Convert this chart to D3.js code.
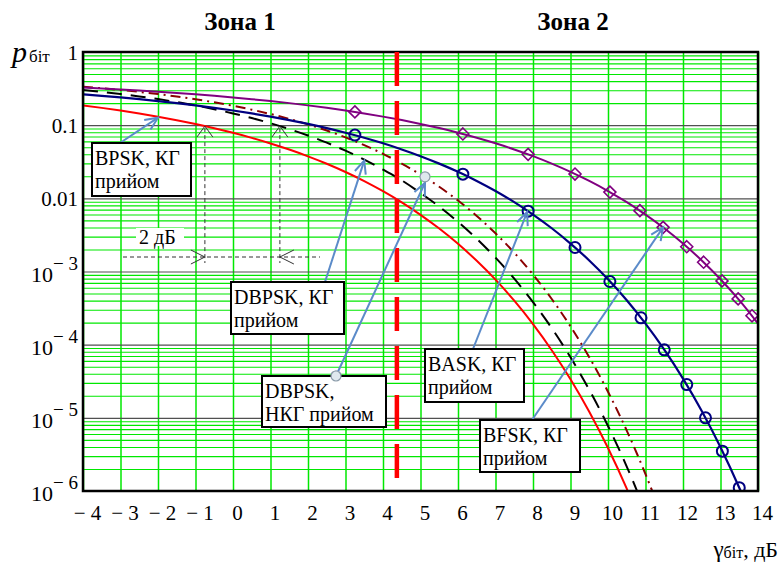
<!DOCTYPE html>
<html><head><meta charset="utf-8">
<script src="https://cdn.jsdelivr.net/npm/d3@7"></script>
<style>body{margin:0;background:#fff}svg{display:block}</style>
</head><body><svg id="c" width="782" height="568"></svg>
<script>
// ---------- DATA ----------
const snrDb = [-4,-3.5,-3,-2.5,-2,-1.5,-1,-0.5,0,0.5,1,1.5,2,2.5,3,3.5,4,4.5,5,5.5,6,6.5,7,7.5,8,8.5,9,9.5,10,10.5,11,11.5,12,12.5,13,13.5,14];
const bpskCoh = [0.1861,0.1723,0.1584,0.1445,0.1306,0.1170,0.1038,0.0909,0.0786,0.0671,0.0563,0.0464,0.0375,0.0297,0.0229,0.0172,0.0125,0.0088,0.00595,0.00386,0.00239,0.0014,7.73e-4,3.99e-4,1.91e-4,8.4e-5,3.36e-5,1.21e-5,3.87e-6,1.08e-6,2.6e-7,null,null,null,null,null,null];
const dbpskCoh = [0.3029,0.2852,0.2666,0.2472,0.2271,0.2066,0.1861,0.1653,0.1448,0.1252,0.1063,0.0885,0.0722,0.0576,0.0448,0.0338,0.0247,0.0176,0.01183,0.00769,0.00477,0.0028,0.001545,7.98e-4,3.82e-4,1.68e-4,6.72e-5,2.42e-5,7.74e-6,2.16e-6,5.2e-7,null,null,null,null,null,null];
const dbpskNonCoh = [0.3358,0.3199,0.3029,0.2849,0.2661,0.2463,0.2260,0.2051,0.1839,0.1628,0.1420,0.1218,0.1025,0.0845,0.0680,0.0533,0.0406,0.0298,0.02116,0.01438,0.00933,0.00574,0.003326,0.001804,9.09e-4,4.21e-4,1.776e-4,6.74e-5,2.27e-5,6.7e-6,1.7e-6,3.7e-7,null,null,null,null,null];
const baskCoh = [0.2640,0.2519,0.2394,0.2267,0.2135,0.2001,0.1864,0.1726,0.1587,0.1447,0.1309,0.1173,0.1040,0.0912,0.0789,0.0673,0.0565,0.0466,0.0377,0.0298,0.0230,0.01728,0.01259,0.00886,0.0060,0.0039,0.00241,0.001416,7.83e-4,4.05e-4,1.94e-4,8.55e-5,3.43e-5,1.24e-5,3.97e-6,1.11e-6,2.7e-7];
const bfskCoh = [0.3275,0.3180,0.3081,0.2977,0.2870,0.2757,0.2640,0.2519,0.2394,0.2267,0.2135,0.2001,0.1864,0.1726,0.1587,0.1447,0.1309,0.1173,0.1040,0.0912,0.0789,0.0673,0.0565,0.0466,0.0377,0.0298,0.0230,0.01728,0.01259,0.00886,0.0060,0.0039,0.00241,0.001416,7.83e-4,4.05e-4,1.94e-4];
const baskMarkX = [3.25,6.13,7.87,9.12,10.05,10.88,11.5,12.1,12.6,13.05,13.5];
const baskMarkY = [0.0731,0.0214,0.00668,0.00213,7.3e-4,2.33e-4,8.5e-5,2.85e-5,1.0e-5,3.5e-6,1.11e-6];
const bfskMarkX = [3.25,6.13,7.87,9.12,10.05,10.85,11.47,12.1,12.55,13.04,13.47,13.84];
const bfskMarkY = [0.1517,0.0758,0.0399,0.0215,0.01217,0.00678,0.00401,0.00218,0.00134,7.44e-4,4.22e-4,2.48e-4];
const xTicks = [-4,-3,-2,-1,0,1,2,3,4,5,6,7,8,9,10,11,12,13,14];
const xTickLabels = ["− 4","− 3","− 2","− 1","0","1","2","3","4","5","6","7","8","9","10","11","12","13","14"];
const yTicks = [1,0.1,0.01,1e-3,1e-4,1e-5,1e-6];
const yTickMain = ["1","0.1","0.01","10","10","10","10"];
const yTickSup = ["","","","− 3","− 4","− 5","− 6"];
const zoneTitles = ["Зона 1","Зона 2"];
const zoneBoundaryDb = 4.37;
const deltaFrom = -0.75, deltaTo = 1.25, deltaLabel = "2 дБ";
const deltaLevel = 0.097;
const ncPointDb = 5.12, ncPointP = 0.0197;
const dbpskArrowDb = 3.5, dbpskArrowP = 0.0338;
const bpskArrowDb = -2.0, bpskArrowP = 0.1306;

// ---------- LAYOUT ----------
const M = {l:83, t:52, r:758, b:491};
const x = d3.scaleLinear().domain([-4,14]).range([M.l, M.r]);
const y = d3.scaleLog().domain([1e-6,1]).range([M.b, M.t]);
const svg = d3.select('#c');
const serif = "'Liberation Serif','Times New Roman',serif";
const green = "#00e800";

svg.append('defs').append('clipPath').attr('id','clip')
  .append('rect').attr('x',M.l).attr('y',M.t).attr('width',M.r-M.l).attr('height',M.b-M.t);

// grid
const minor = [];
for (let d=-6; d<0; d++) for (let m=2; m<=9; m++) minor.push(m*Math.pow(10,d));
const gMinor = svg.append('g').attr('transform',`translate(${M.l},0)`)
  .call(d3.axisLeft(y).tickValues(minor).tickSize(-(M.r-M.l)).tickFormat(''));
gMinor.select('.domain').remove();
gMinor.selectAll('line').attr('stroke',green).attr('stroke-width',1.1);

const gVert = svg.append('g').attr('transform',`translate(0,${M.b})`)
  .call(d3.axisBottom(x).tickValues(xTicks).tickSize(-(M.b-M.t)).tickFormat(''));
gVert.select('.domain').remove();
gVert.selectAll('line').attr('stroke',green).attr('stroke-width',1.5);

const gDec = svg.append('g').attr('transform',`translate(${M.l},0)`)
  .call(d3.axisLeft(y).tickValues(yTicks.slice(1,-1)).tickSize(-(M.r-M.l)).tickFormat(''));
gDec.select('.domain').remove();
gDec.selectAll('line').attr('stroke','#505050').attr('stroke-width',1.1);

// curves
const gCurves = svg.append('g').attr('clip-path','url(#clip)');
const line = d3.line().defined(d=>d[1]!=null).x(d=>x(d[0])).y(d=>y(d[1])).curve(d3.curveMonotoneX);
function series(vals){ return snrDb.map((s,i)=>[s,vals[i]]); }
const curveDefs = [
  {v:bpskCoh, c:'#ff0000', dash:null, w:2},
  {v:dbpskCoh, c:'#000000', dash:'15,9', w:2},
  {v:dbpskNonCoh, c:'#8b0000', dash:'10,5,2,5', w:2},
  {v:baskCoh, c:'#000080', dash:null, w:2.2},
  {v:bfskCoh, c:'#800080', dash:null, w:2}
];
curveDefs.forEach(cd=>{
  gCurves.append('path').attr('d',line(series(cd.v))).attr('fill','none')
    .attr('stroke',cd.c).attr('stroke-width',cd.w).attr('stroke-dasharray',cd.dash);
});
gCurves.selectAll('circle.bm').data(baskMarkX).join('circle').attr('class','bm')
  .attr('cx',d=>x(d)).attr('cy',(d,i)=>y(baskMarkY[i])).attr('r',5.5)
  .attr('fill','none').attr('stroke','#000080').attr('stroke-width',2);
gCurves.selectAll('path.fm').data(bfskMarkX).join('path').attr('class','fm')
  .attr('transform',(d,i)=>`translate(${x(d)},${y(bfskMarkY[i])})`)
  .attr('d','M0,-6L6,0L0,6L-6,0Z')
  .attr('fill','none').attr('stroke','#800080').attr('stroke-width',1.6);

// border
svg.append('rect').attr('x',M.l).attr('y',M.t).attr('width',M.r-M.l).attr('height',M.b-M.t)
  .attr('fill','none').attr('stroke','#000').attr('stroke-width',2.5);

// zone boundary
svg.append('line').attr('x1',x(zoneBoundaryDb)).attr('x2',x(zoneBoundaryDb)).attr('y1',M.t).attr('y2',M.b)
  .attr('stroke','#ff0000').attr('stroke-width',4.5).attr('stroke-dasharray','34,15');

// titles
svg.selectAll('text.zone').data(zoneTitles).join('text').attr('class','zone')
  .attr('x',(d,i)=>[240,573][i]).attr('y',30).attr('text-anchor','middle')
  .attr('font-family',serif).attr('font-weight','bold').attr('font-size',25).text(d=>d);

// x tick labels
const gx = svg.append('g').attr('transform',`translate(4,${M.b})`)
  .call(d3.axisBottom(x).tickValues(xTicks).tickSize(0).tickPadding(14).tickFormat((d,i)=>xTickLabels[i]));
gx.select('.domain').remove();
gx.selectAll('text').attr('font-family',serif).attr('font-size',21).attr('fill','#000');

// y tick labels
yTicks.forEach((v,i)=>{
  const t = svg.append('text').attr('text-anchor','end').attr('x',78)
    .attr('font-family',serif).attr('font-size',21).attr('fill','#000');
  if (yTickSup[i]) {
    t.attr('y', y(v)+10);
    t.append('tspan').attr('font-size',22).text(yTickMain[i]);
    t.append('tspan').attr('dy',-12).attr('font-size',19).text(yTickSup[i]);
  } else {
    t.attr('y', y(v)+8).text(yTickMain[i]);
  }
});

// axis titles
const yl = svg.append('text').attr('x',12).attr('y',62).attr('font-family',serif);
yl.append('tspan').attr('font-size',30).attr('font-style','italic').text('p');
yl.append('tspan').attr('font-size',17).attr('dx',2).text('біт');
const xl = svg.append('text').attr('x',778).attr('y',557).attr('text-anchor','end').attr('font-family',serif);
xl.append('tspan').attr('font-size',23).text('γ');
xl.append('tspan').attr('font-size',16).attr('dy',1).text('біт');
xl.append('tspan').attr('font-size',22).attr('dy',-1).text(', дБ');

// "2 dB" annotation
const ga = svg.append('g').attr('stroke','#333').attr('stroke-width',1).attr('fill','none');
const xa = x(deltaFrom), xb = x(deltaTo), yTip = y(deltaLevel), yH = 257;
ga.append('line').attr('x1',xa).attr('x2',xa).attr('y1',yTip+2).attr('y2',yH+6).attr('stroke-dasharray','4,3');
ga.append('line').attr('x1',xb).attr('x2',xb).attr('y1',yTip+2).attr('y2',yH+6).attr('stroke-dasharray','4,3');
ga.append('line').attr('x1',123).attr('x2',320).attr('y1',yH).attr('y2',yH).attr('stroke-dasharray','4,3');
ga.append('path').attr('d',`M${xa-8},${yTip+11}L${xa},${yTip}L${xa+8},${yTip+11}`);
ga.append('path').attr('d',`M${xb-8},${yTip+11}L${xb},${yTip}L${xb+8},${yTip+11}`);
ga.append('path').attr('d',`M${xa-14},${yH-7}L${xa},${yH}L${xa-14},${yH+7}`);
ga.append('path').attr('d',`M${xb+14},${yH-7}L${xb},${yH}L${xb+14},${yH+7}`);
svg.append('rect').attr('x',136).attr('y',228).attr('width',48).attr('height',18).attr('fill','#fff');
svg.append('text').attr('x',139).attr('y',244).attr('font-family',serif).attr('font-size',20).text(deltaLabel);

// arrows
const arrowColor = '#5b8bc9';
function arrow(x1,y1,x2,y2,head=true){
  const g = svg.append('g').attr('stroke',arrowColor).attr('stroke-width',2).attr('fill','none');
  g.append('line').attr('x1',x1).attr('y1',y1).attr('x2',x2).attr('y2',y2);
  if (head){
    const a = Math.atan2(y1-y2,x1-x2), L=14, s=0.42;
    g.append('path').attr('d',`M${x2+L*Math.cos(a+s)},${y2+L*Math.sin(a+s)}L${x2},${y2}L${x2+L*Math.cos(a-s)},${y2+L*Math.sin(a-s)}`);
  }
}
arrow(120,143,x(bpskArrowDb),y(bpskArrowP)+1);
arrow(325,282,x(dbpskArrowDb),y(dbpskArrowP)+1);
arrow(473,349,x(baskMarkX[2])-1,y(baskMarkY[2])+1);
arrow(532,420,x(bfskMarkX[6]),y(bfskMarkY[6]));
arrow(336,376,x(ncPointDb),y(ncPointP)+6);
[[336,376],[x(ncPointDb),y(ncPointP)]].forEach(p=>{
  svg.append('circle').attr('cx',p[0]).attr('cy',p[1]).attr('r',5)
    .attr('fill','#dfe8ee').attr('stroke','#8a9aa8').attr('stroke-width',1.2);
});

// label boxes
const boxes = [
  {x:92,y:143,w:99,h:53,lines:["BPSK, КГ","прийом"]},
  {x:231,y:282,w:113,h:52,lines:["DBPSK, КГ","прийом"]},
  {x:262,y:376,w:124,h:51,lines:["DBPSK,","НКГ прийом"]},
  {x:425,y:349,w:99,h:53,lines:["BASK, КГ","прийом"]},
  {x:480,y:420,w:100,h:52,lines:["BFSK, КГ","прийом"]}
];
boxes.forEach(b=>{
  svg.append('rect').attr('x',b.x).attr('y',b.y).attr('width',b.w).attr('height',b.h)
    .attr('fill','#fff').attr('stroke','#000').attr('stroke-width',2);
  b.lines.forEach((t,i)=>{
    svg.append('text').attr('x',b.x+3).attr('y',b.y+22+i*23).attr('font-family',serif)
      .attr('font-size',20).attr('fill','#000').text(t);
  });
});
svg.append('circle').attr('cx',336).attr('cy',376).attr('r',5)
  .attr('fill','#dfe8ee').attr('stroke','#8a9aa8').attr('stroke-width',1.2);
</script></body></html>
